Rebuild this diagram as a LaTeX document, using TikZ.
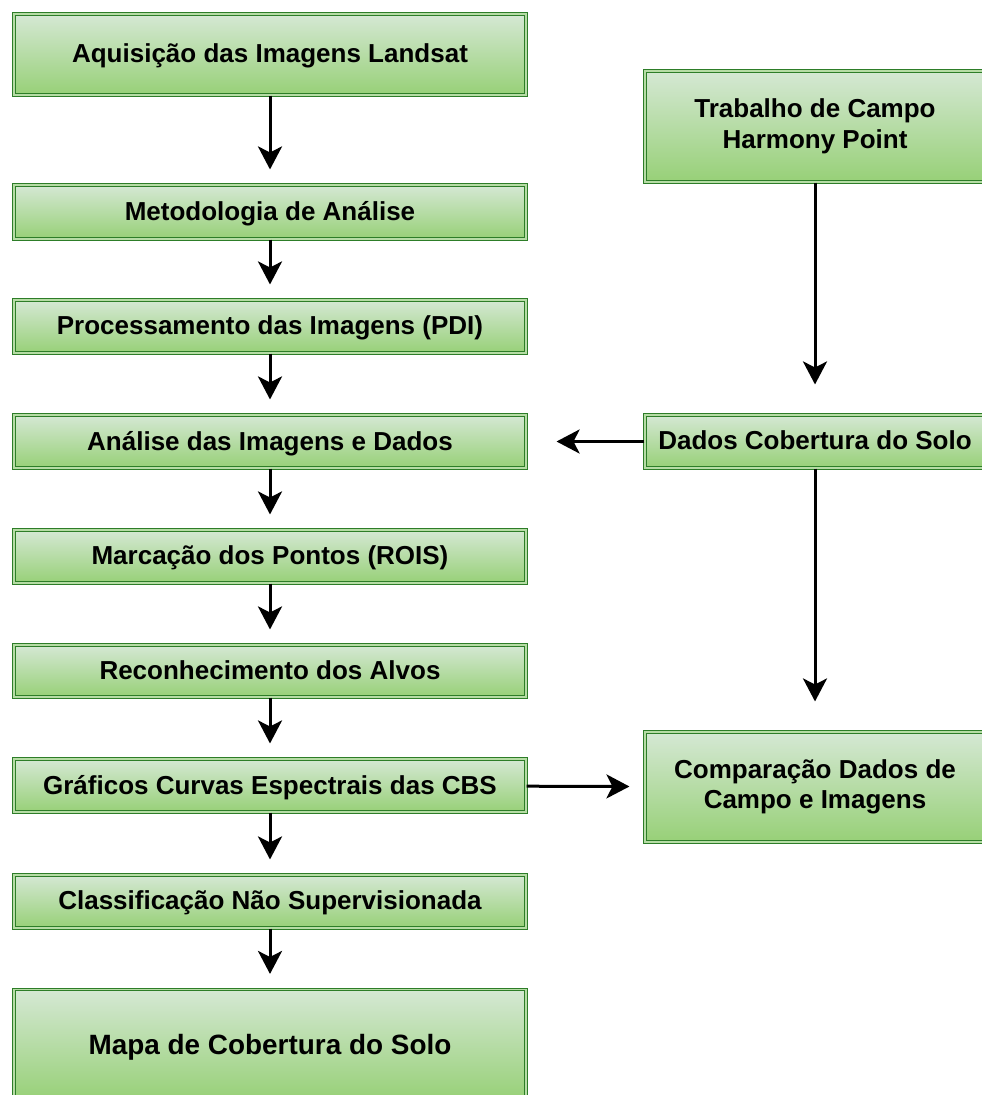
\documentclass[tikz,border=0pt]{standalone}
\usepackage{fontspec}
\setmainfont{Liberation Sans}
\usetikzlibrary{arrows.meta}
\usetikzlibrary{positioning}
\definecolor{boxline}{RGB}{45,125,40}
\definecolor{boxtop}{RGB}{213,232,212}
\definecolor{boxbot}{RGB}{151,208,119}

\begin{document}
\begin{tikzpicture}[x=1pt, y=-1pt,
  etapa/.style={draw=boxline, double=boxtop!50!boxbot, double distance=1.4pt, line width=1.1pt,
    top color=boxtop, bottom color=boxbot, align=center, inner sep=0pt,
    font=\fontsize{26}{30.5}\selectfont\bfseries},
  seta/.style={-{Stealth[length=23pt,width=24pt,inset=6pt]}, line width=3pt}]
  \clip (0,0) rectangle (982,1095);
  % coluna da esquerda
  \foreach \nome/\yc/\alt/\texto in {aq/54.5/81/{Aquisição das Imagens Landsat},
      met/212/54/{Metodologia de Análise}, proc/326.5/53/{Processamento das Imagens (PDI)},
      anal/441.5/53/{Análise das Imagens e Dados}, marc/556.5/53/{Marcação dos Pontos (ROIS)},
      rec/671/52/{Reconhecimento dos Alvos}, graf/785.5/53/{Gráficos Curvas Espectrais das CBS},
      clas/901.5/53/{Classificação Não Supervisionada}}{
    \node[etapa, minimum width=512, minimum height=\alt, text depth=2pt] (\nome) at (270,\yc) {\texto};
  }
  \node[etapa, minimum width=512, minimum height=111, text depth=2pt, font=\fontsize{27.9}{32}\selectfont\bfseries]
    (mapa) at (270,1045) {Mapa de Cobertura do Solo};
  % coluna da direita
  \node[etapa, minimum width=340, minimum height=111] (trab) at (815,126.5) {Trabalho de Campo\\Harmony Point};
  \node[etapa, minimum width=340, minimum height=53, text depth=2pt] (dados) at (815,441.5) {Dados Cobertura do Solo};
  \node[etapa, minimum width=340, minimum height=110] (comp) at (815,787) {Comparação Dados de\\Campo e Imagens};
  % setas
  \foreach \a/\b in {aq/met, met/proc, proc/anal, anal/marc, marc/rec, rec/graf, graf/clas, clas/mapa}{
    \draw[seta, shorten >=15pt] (\a) -- (\b);
  }
  \draw[seta, shorten >=30pt] (trab) -- (dados);
  \draw[seta, shorten >=30pt] (dados) -- (comp);
  \draw[seta, shorten >=30pt] (dados) -- (anal);
  \draw[seta, shorten >=15pt] (graf) -- (comp);
\end{tikzpicture}
\end{document}
